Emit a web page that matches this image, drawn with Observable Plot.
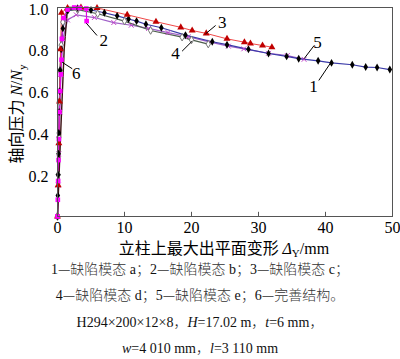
<!DOCTYPE html>
<html><head><meta charset="utf-8">
<script src="https://cdn.jsdelivr.net/npm/d3@7"></script>
<script src="https://cdn.jsdelivr.net/npm/@observablehq/plot@0.6"></script>
<style>
body{margin:0;background:#fff;width:400px;height:359px;overflow:hidden;position:relative}
#chart{position:absolute;left:0;top:0}
#cap{position:absolute;left:0;top:257px;width:400px;font-family:"Liberation Serif","Noto Sans CJK SC",serif;font-size:14px;text-align:center;color:#111}
#cap div{height:26.4px;line-height:26.4px;white-space:nowrap}
#cap .cj{font-family:"Noto Sans CJK SC",sans-serif;font-weight:300;color:#333;line-height:1}
</style></head><body>
<div id="chart"></div>
<div id="cap"></div>
<script>
const xTicks = [0, 10, 20, 30, 40, 50];
const yTicks = [0.2, 0.4, 0.6, 0.8, 1.0];

const c1x = [0, 0.05, 0.1, 0.15, 0.2, 0.25, 0.3, 0.4, 0.55, 0.8, 1.5, 3, 5, 7, 8.9, 10.6, 11.8, 13.2, 15.5, 19.1, 23.1, 25.3, 28.5, 31.5, 34.2, 36, 38.9, 40.9, 44, 46, 47.7, 49.6];
const c1y = [0, 0.1, 0.2, 0.3, 0.4, 0.5, 0.6, 0.7, 0.8, 0.9, 0.985, 0.997, 0.988, 0.975, 0.96, 0.945, 0.935, 0.92, 0.903, 0.868, 0.836, 0.822, 0.8, 0.78, 0.766, 0.755, 0.745, 0.735, 0.726, 0.715, 0.713, 0.703];
const c2x = [0, 0.05, 0.1, 0.15, 0.2, 0.3, 0.4, 0.5, 0.6, 0.65, 0.9, 1.5, 2.5, 3.3, 4.3, 4.35];
const c2y = [0, 0.08, 0.17, 0.27, 0.37, 0.5, 0.6, 0.68, 0.75, 0.85, 0.95, 0.99, 1.0, 0.998, 0.995, 0.935];
const c3x = [0, 0.1, 0.2, 0.3, 0.45, 0.6, 1.5, 3.5, 5.9, 10.4, 14.7, 18.4, 20.1, 22.2, 25.3, 27.9, 28.8, 30.6, 32];
const c3y = [0, 0.15, 0.35, 0.55, 0.8, 0.975, 0.998, 1.0, 0.998, 0.965, 0.932, 0.905, 0.89, 0.876, 0.85, 0.834, 0.828, 0.818, 0.81];
const c4x = [0, 0.1, 0.2, 0.3, 0.4, 0.55, 0.8, 1.5, 3, 6, 10, 13.9, 18.6, 20, 22.5];
const c4y = [0, 0.2, 0.38, 0.55, 0.7, 0.82, 0.93, 0.985, 0.99, 0.97, 0.935, 0.89, 0.858, 0.845, 0.825];
const c5x = [0, 0.1, 0.2, 0.35, 0.5, 0.8, 1.5, 2.8, 5.5, 8.4, 11, 13.6, 16.5, 19.5, 22.8, 25.5, 27.8, 31.5, 34.3, 36.8];
const c5y = [0, 0.15, 0.3, 0.5, 0.68, 0.85, 0.94, 0.965, 0.952, 0.928, 0.915, 0.9, 0.88, 0.86, 0.834, 0.815, 0.802, 0.781, 0.77, 0.752];
const c6x = [0, 0.5, 1.0, 1.5, 2.5];
const c6y = [0, 0.42, 0.8, 1.0, 1.0];

const labText = ["1", "2", "3", "4", "5", "6"];
const labX = [38.2, 6.9, 24.6, 17.6, 38.8, 2.8];
const labY = [0.622, 0.842, 0.93, 0.78, 0.834, 0.686];
const leadX1 = [39.0, 5.9, 23.6, 18.6, 38.3, 2.2];
const leadY1 = [0.651, 0.866, 0.914, 0.791, 0.818, 0.707];
const leadX2 = [40.7, 4.3, 22.1, 20.1, 36.8, 0.7];
const leadY2 = [0.732, 0.925, 0.874, 0.839, 0.755, 0.738];

const pts = (xs, ys) => xs.map((x, i) => ({x, y: ys[i]}));
const d1 = pts(c1x, c1y), d2 = pts(c2x, c2y), d3_ = pts(c3x, c3y),
      d4 = pts(c4x, c4y), d5 = pts(c5x, c5y), d6 = pts(c6x, c6y);
const labs = labText.map((t, i) => ({t, x: labX[i], y: labY[i], x1: leadX1[i], y1: leadY1[i], x2: leadX2[i], y2: leadY2[i]}));

const serif = "Liberation Serif";
const plot = Plot.plot({
  width: 400, height: 262,
  marginLeft: 57, marginRight: 8, marginTop: 7, marginBottom: 46,
  style: {fontFamily: serif, fontSize: "16px", color: "#000", background: "transparent"},
  x: {domain: [0, 50]},
  y: {domain: [0, 1]},
  marks: [
    Plot.ruleX(xTicks, {x: d => d, y1: 0, y2: 0.02, stroke: "#555"}),
    Plot.ruleY(yTicks, {y: d => d, x1: 0, x2: 0.6, stroke: "#555"}),
    Plot.axisX(xTicks, {tickSize: 0, tickPadding: 5, label: null, fontSize: 16}),
    Plot.axisY(yTicks, {tickSize: 0, tickPadding: 9, label: null, fontSize: 16, dy: 2, tickFormat: d3.format(".1f")}),
    Plot.line(d5, {x: "x", y: "y", stroke: "#a060c8", strokeWidth: 1.2}),
    Plot.line(d4, {x: "x", y: "y", stroke: "#4e5e4e", strokeWidth: 1.2}),
    Plot.line(d1, {x: "x", y: "y", stroke: "#3a3aa8", strokeWidth: 1.2}),
    Plot.line(d3_, {x: "x", y: "y", stroke: "#f04848", strokeWidth: 1}),
    Plot.line(d2, {x: "x", y: "y", stroke: "#e010e0", strokeWidth: 1.2}),
    Plot.line(d6, {x: "x", y: "y", stroke: "#3a1010", strokeWidth: 1.4}),
    Plot.dot(d5, {x: "x", y: "y", symbol: "times", r: 2.3, stroke: "#c040c8", strokeWidth: 1}),
    Plot.dot(d4, {x: "x", y: "y", symbol: "diamond", r: 2.3, stroke: "#777", fill: "#fff", strokeWidth: 1}),
    Plot.dot(d1, {x: "x", y: "y", symbol: "diamond", r: 2.4, fill: "#000"}),
    Plot.dot(d3_, {x: "x", y: "y", symbol: "triangle", r: 2.6, fill: "#c00000"}),
    Plot.dot(d2, {x: "x", y: "y", symbol: "square", r: 2.6, fill: "#ff00ff"}),
    Plot.link(labs, {x1: "x1", y1: "y1", x2: "x2", y2: "y2", stroke: "#000", strokeWidth: 1}),
    Plot.text(labs, {x: "x", y: "y", text: "t", fontSize: 17, fontFamily: serif, fill: "#000"}),
    Plot.frame({stroke: "#555", strokeWidth: 1})
  ]
});
document.getElementById("chart").appendChild(plot);

const svg = d3.select(plot);
// x axis title
const xt = svg.append("text").attr("x", 224).attr("y", 254).attr("text-anchor", "middle")
  .style("font-size", "16px").attr("fill", "#000");
xt.append("tspan").style("font-family", "Noto Sans CJK SC").text("立柱上最大出平面变形 ");
xt.append("tspan").style("font-family", serif).style("font-style", "italic").text("Δ");
xt.append("tspan").style("font-family", serif).style("font-size", "11px").attr("dy", 3).text("Y");
xt.append("tspan").style("font-family", serif).attr("dy", -3).text("/mm");
// y axis title
const yt = svg.append("text").attr("transform", "translate(22,114) rotate(-90)").attr("text-anchor", "middle")
  .style("font-size", "16px").attr("fill", "#000");
yt.append("tspan").style("font-family", "Noto Sans CJK SC").text("轴向压力 ");
yt.append("tspan").style("font-family", serif).style("font-style", "italic").text("N");
yt.append("tspan").style("font-family", serif).text("/");
yt.append("tspan").style("font-family", serif).style("font-style", "italic").text("N");
yt.append("tspan").style("font-family", serif).style("font-size", "11px").attr("dy", 4).text("y");

const cap = document.getElementById("cap");
cap.innerHTML =
  '<div>1<span class="cj">—缺陷模态</span> a<span class="cj">；</span>2<span class="cj">—缺陷模态</span> b<span class="cj">；</span>3<span class="cj">—缺陷模态</span> c<span class="cj">；</span></div>' +
  '<div>4<span class="cj">—缺陷模态</span> d<span class="cj">；</span>5<span class="cj">—缺陷模态</span> e<span class="cj">；</span>6<span class="cj">—完善结构。</span></div>' +
  '<div>H294×200×12×8<span class="cj">，</span><i>H</i>=17.02 m<span class="cj">，</span><i>t</i>=6 mm<span class="cj">，</span></div>' +
  '<div><i>w</i>=4 010 mm<span class="cj">，</span><i>l</i>=3 110 mm</div>';
</script>
</body></html>
